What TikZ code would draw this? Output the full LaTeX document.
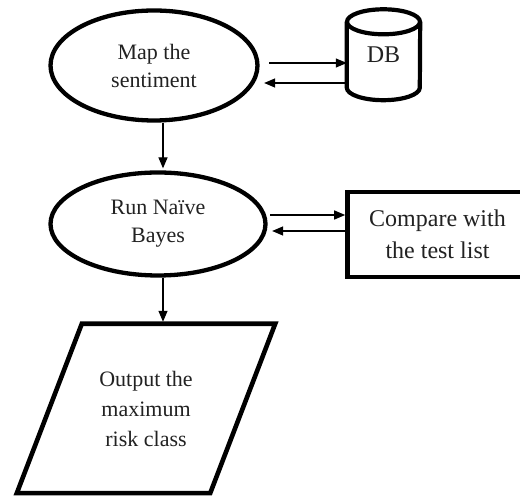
\documentclass[tikz,border=0pt]{standalone}
\usepackage{fontspec}
\setmainfont{Liberation Serif}
\usetikzlibrary{shapes.geometric,arrows.meta,calc}
\definecolor{ink}{HTML}{222222}
\begin{document}
\begin{tikzpicture}[x=1pt,y=1pt,
  proc/.style={ellipse,draw,line width=4.3pt,inner sep=0pt,align=center,text=ink,
    font=\fontsize{22}{28}\selectfont},
  arr/.style={line width=1.3pt,-{Triangle[length=11pt,width=9pt]}},
  shapeline/.style={line width=4.6pt},
  boxtext/.style={align=center,text=ink}]
\fill[white] (0,0) rectangle (520,500);
\useasboundingbox (0,0) rectangle (520,500);

% ellipses
\node[proc,minimum width=207pt,minimum height=110pt] (m1) at (154,434.5) {Map the\\sentiment};
\node[proc,minimum width=215pt,minimum height=103pt] (m2) at (158,276) {Run Naïve\\Bayes};

% database cylinder
\node[inner sep=0pt,minimum width=73pt,minimum height=90.5pt,boxtext,
  font=\fontsize{24}{30}\selectfont] (db) at (383.5,445.25) {DB};
\draw[line width=4.2pt] ($(db.north)+(0,-12.5)$) ellipse [x radius=36.5pt, y radius=12.5pt];
\draw[line width=4.2pt] ($(db.north west)+(0,-12.5)$) -- ($(db.south west)+(0,12.5)$)
  arc[start angle=180,end angle=360,x radius=36.5pt,y radius=12.5pt]
  -- ($(db.north east)+(0,-12.5)$);

% compare box
\node[draw,shapeline,inner sep=0pt,minimum width=180pt,minimum height=85pt,boxtext,
  font=\fontsize{24}{32}\selectfont] (cmp) at (437.5,265.5) {Compare with\\the test list};

% output parallelogram
\node[inner sep=0pt,minimum width=258pt,minimum height=169pt,boxtext,
  font=\fontsize{22}{30}\selectfont] (out) at (146,91.5) {Output the\\maximum\\risk class};
\draw[shapeline,line join=miter] ($(out.north west)+(65,0)$) -- (out.north east)
  -- ($(out.south east)+(-65,0)$) -- (out.south west) -- cycle;

% connectors
\coordinate (a1) at ($(m1.east)+(9.5,2.5)$);
\coordinate (b1) at ($(m1.east)+(4.5,-17.5)$);
\draw[arr] (a1) -- (a1 -| db.west);
\draw[arr] (b1 -| db.west) -- (b1);

\coordinate (a2) at ($(m2.east)+(2.5,9)$);
\coordinate (b2) at ($(m2.east)+(4.5,-7)$);
\draw[arr] (a2) -- (a2 -| cmp.west);
\draw[arr] (b2 -| cmp.west) -- (b2);

\draw[arr] ([xshift=9pt]m1.south) -- ([xshift=5pt,yshift=2pt]m2.north);
\draw[arr] ([xshift=5pt]m2.south) -- ([xshift=17pt,yshift=2pt]out.north);
\end{tikzpicture}
\end{document}
